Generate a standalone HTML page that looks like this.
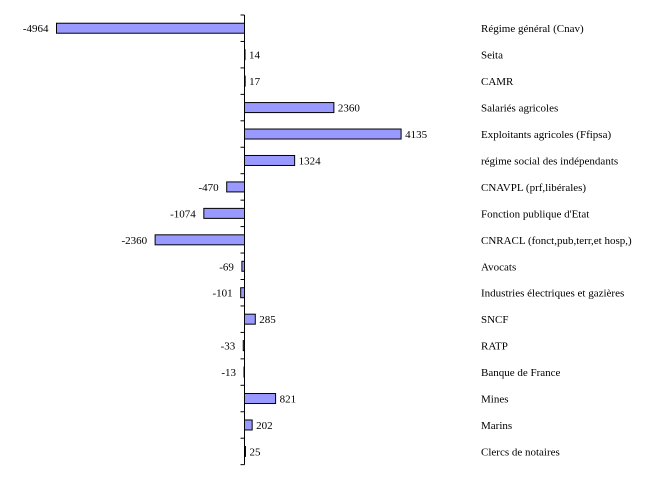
<!DOCTYPE html>
<html><head><meta charset="utf-8"><style>
body{margin:0;background:#fff;}
svg text{font-family:"Liberation Serif",serif;font-size:11px;fill:#000;}
</style></head><body>
<svg id="chart" width="657" height="479"></svg>
<script>
const categories=["Régime général (Cnav)","Seita","CAMR","Salariés agricoles","Exploitants agricoles (Ffipsa)","régime social des indépendants","CNAVPL (prf,libérales)","Fonction publique d'Etat","CNRACL (fonct,pub,terr,et hosp,)","Avocats","Industries électriques et gazières","SNCF","RATP","Banque de France","Mines","Marins","Clercs de notaires"];
const values=[-4964,14,17,2360,4135,1324,-470,-1074,-2360,-69,-101,285,-33,-13,821,202,25];
const valueLabels=["-4964","14","17","2360","4135","1324","-470","-1074","-2360","-69","-101","285","-33","-13","821","202","25"];
const NS="http://www.w3.org/2000/svg";
const svgEl=document.getElementById('chart');
const x0=244.5, pxPerUnit=188/4964, plotTop=15, band=26.45, barH=10;
const xs=v=>x0+v*pxPerUnit;
const ys=i=>plotTop+i*band;
function mk(t,a){const e=document.createElementNS(NS,t);for(const k in a)e.setAttribute(k,a[k]);svgEl.appendChild(e);return e;}
categories.forEach((c,i)=>{
  const v=values[i];const xa=Math.min(xs(v),x0),w=Math.abs(xs(v)-x0);
  const yc=ys(i)+band/2;
  const r=mk('rect',{x:xa,y:yc-barH/2,width:Math.max(w,0.5),height:barH,fill:'#9999ff',stroke:'#000','stroke-width':1});
  
  
  const t=mk('text',{x:v<0?xa-8:xa+w+4,y:yc+4,'text-anchor':v<0?'end':'start'});
  t.textContent=valueLabels[i];
  
  
  const l=mk('text',{x:481,y:yc+4});
  l.textContent=c;
  
  
});
const ax=mk('line',{x1:x0,x2:x0,y1:plotTop,y2:ys(categories.length),stroke:'#000','stroke-width':1});


for(let i=0;i<=categories.length;i++){
  const tk=mk('line',{x1:x0-4,x2:x0,y1:ys(i),y2:ys(i),stroke:'#000','stroke-width':1});
  
  
}
</script>
</body></html>
